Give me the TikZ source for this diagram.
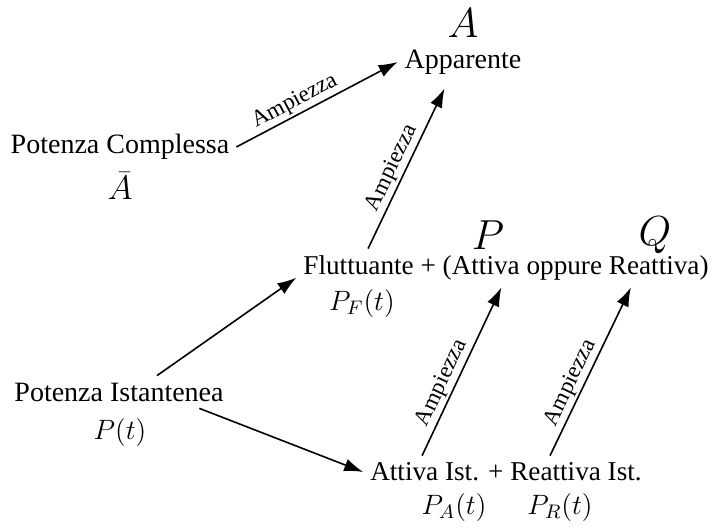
\documentclass[tikz,border=0pt]{standalone}
\usepackage{fix-cm}
\usepackage[no-math]{fontspec}
\setmainfont{Liberation Serif}
\usetikzlibrary{arrows.meta, positioning, calc}
\tikzset{
  txt/.style = {font=\fontsize{14}{17}\selectfont},
  longtxt/.style = {font=\fontsize{13.6}{17}\selectfont},
  sym/.style = {font=\fontsize{21}{24}\selectfont, inner sep=0pt},
  sub/.style = {font=\fontsize{14}{17}\selectfont, inner sep=0pt},
  arrow/.style = {line width=0.8pt, -{Latex[length=9.5pt,width=6.5pt]}},
  amp/.style = {font=\fontsize{11.5}{13}\selectfont, sloped, above, inner sep=1pt},
}

\begin{document}
\begin{tikzpicture}[x=0.5pt, y=-0.5pt]
  \useasboundingbox (0,0) rectangle (713,530);

  % Complessa / Apparente
  \node[txt] (pc) at (120,147) {Potenza Complessa};
  \node[sym, font=\fontsize{17}{20}\selectfont] (abar) at (120,186) {$\bar{A}$};
  \node[txt] (app) at (463,62) {Apparente};
  \node[sym] (amod) at (463,23) {$A$};

  % Fluttuante + Attiva/Reattiva
  \node[longtxt] (flu) at (506,268) {Fluttuante + (Attiva oppure Reattiva)};
  \node[sub] (pf) at (362,303) {$P_F(t)$};
  \node[sym] (pp) at (488,235) {$P$};
  \node[sym] (qq) at (655,235) {$Q$};

  % Istantanea
  \node[txt] (pi) at (119,392) {Potenza Istantenea};
  \node[sub] (pt) at (120,432) {$P(t)$};
  \node[longtxt] (ist) at (506,472) {Attiva Ist. + Reattiva Ist.};
  \node[sub] (pa) at (454,507) {$P_A(t)$};
  \node[sub] (pr) at (560,507) {$P_R(t)$};

  % Arrows
  \draw[arrow] (pc.east) -- (app.west) node[amp, pos=.4] {Ampiezza};
  \draw[arrow, shorten >=4pt] ($(flu.north west)!.171!(flu.north east)$) -- ($(app.south west)!.385!(app.south east)$) node[amp, pos=.45] {Ampiezza};
  \draw[arrow] ($(pi.north west)!.67!(pi.north east)$) -- ($(flu.west)!.5!(flu.south west)$);
  \draw[arrow] ($(pi.south west)!.86!(pi.south east)$) -- (ist.west);
  \draw[arrow] ($(ist.north west)!.206!(ist.north east)$) -- ($(flu.south west)!.489!(flu.south east)$) node[amp, pos=.4] {Ampiezza};
  \draw[arrow] ($(ist.north west)!.654!(ist.north east)$) -- ($(flu.south west)!.798!(flu.south east)$) node[amp, pos=.4] {Ampiezza};

\end{tikzpicture}
\end{document}
